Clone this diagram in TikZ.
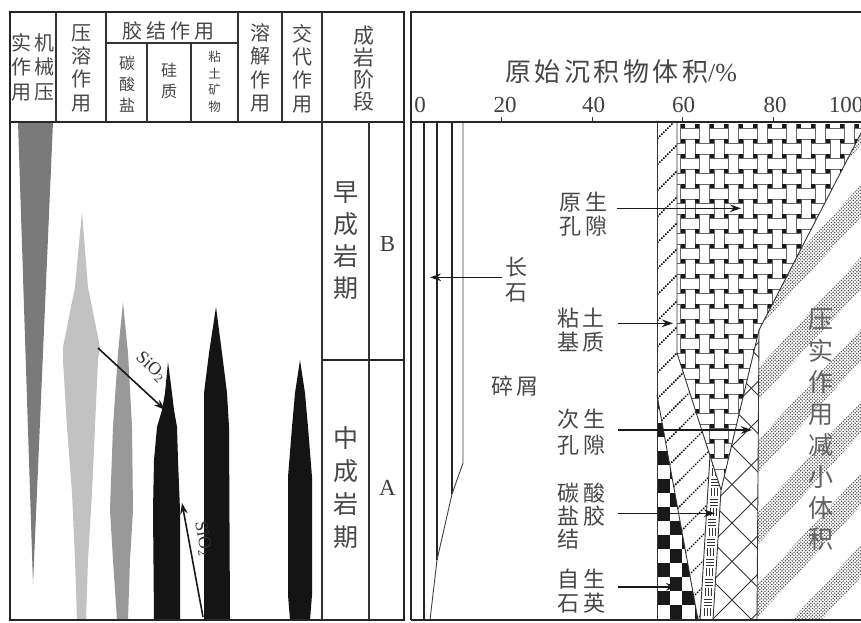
\documentclass[tikz,border=0pt]{standalone}
\usepackage{fontspec}
\setmainfont{Liberation Serif}
\newfontfamily\cjk{Noto Sans CJK SC}
\usetikzlibrary{patterns,arrows.meta}
\pgfdeclarepatternformonly{cdots}{\pgfqpoint{-1pt}{-1pt}}{\pgfqpoint{4.5pt}{4.5pt}}{\pgfqpoint{3.4pt}{3.4pt}}{%
  \pgfpathcircle{\pgfqpoint{0pt}{0pt}}{0.8pt}%
  \pgfpathcircle{\pgfqpoint{1.7pt}{1.7pt}}{0.8pt}%
  \pgfusepath{fill}}
\tikzset{
  frame/.style={line width=2pt,draw=black!85},
  gridl/.style={line width=1.3pt,draw=black!80},
  bnd/.style={line width=0.9pt,draw=black!80},
  fline/.style={line width=2.2pt,draw=black!85},
  wv/.style={line width=0.55pt,draw=black!60},
  cb/.style={line width=0.7pt,draw=black!80},
  xh/.style={line width=1pt,draw=black!80},
  vlab/.style n args={2}{font=\cjk\fontsize{#1}{#2}\selectfont,text=black!72,inner sep=0pt,align=center},
  hlab/.style n args={2}{font=\cjk\fontsize{#1}{#2}\selectfont,text=black!72,inner sep=0pt,align=left},
  num/.style={font=\fontsize{23}{23}\selectfont,text=black!75,inner sep=0pt},
  arr/.style={line width=1.6pt,draw=black!90,-{Stealth[length=11pt,width=7.5pt]}},
  dotline/.style={line width=2.2pt,dash pattern=on 0.01pt off 2.8pt,line cap=round,draw=black},
  sio/.style={font=\fontsize{18}{18}\selectfont,text=black!80,inner sep=0pt},
  dark/.style={fill=black!52},
  light/.style={fill=black!24},
  mid/.style={fill=black!40},
  blk/.style={fill=black!92},
}
\begin{document}
\begin{tikzpicture}[x=1pt,y=-1pt]
\useasboundingbox (0,0) rectangle (861,622);
\fill[white] (0,0) rectangle (861,622);

% ---------------- left panel spikes
\fill[dark] (18,122) -- (53,122) -- (33,584) -- cycle;
\fill[light] (82,212) -- (88,287) -- (100,347) -- (98,360) -- (95,427) -- (92,493) -- (88,560) -- (86,620) -- (77,620) -- (75,560) -- (72,493) -- (67,427) -- (63,360) -- (63,347) -- (75,287) -- cycle;
\fill[mid] (123,302) -- (128,353) -- (132,427) -- (133,510) -- (130,560) -- (128,620) -- (117,620) -- (113,560) -- (110,510) -- (113,427) -- (118,353) -- cycle;
\fill[blk] (168,362) -- (172,393) -- (174,410) -- (177,427) -- (178,460) -- (180,510) -- (180,620) -- (154,620) -- (153,510) -- (154,460) -- (157,427) -- (162,410) -- (165,393) -- cycle;
\fill[blk] (216,307) -- (222,353) -- (227,393) -- (229,427) -- (230,620) -- (204,620) -- (204,427) -- (204,393) -- (209,353) -- cycle;
\fill[blk] (300,360) -- (305,393) -- (308,427) -- (312,477) -- (312,595) -- (310,620) -- (290,620) -- (288,595) -- (288,477) -- (292,427) -- (295,393) -- cycle;

% SiO2 arrows
\coordinate (s1s) at (98,348);
\coordinate (s1e) at (165,410);
\coordinate (s2s) at (203,617);
\coordinate (s2e) at (182,503);
\draw[arr] (s1s) -- (s1e);
\draw[arr] (s2s) -- (s2e);
\node[sio,rotate=-43.6] (sio1) at (151,367) {SiO\textsubscript{2}};
\node[sio,rotate=-79.5] (sio2) at (203,539) {SiO\textsubscript{2}};

% ---------------- left panel grid
\draw[frame] (10,12) rectangle (404,620);
\draw[frame] (10,121.5) -- (404,121.5);
\draw[gridl] (56,12) -- (56,121.5);
\draw[gridl] (106,12) -- (106,121.5);
\draw[gridl] (238,12) -- (238,121.5);
\draw[gridl] (282,12) -- (282,121.5);
\draw[gridl] (322,12) -- (322,620);
\draw[gridl] (106,43) -- (238,43);
\draw[gridl] (147,43) -- (147,121.5);
\draw[gridl] (191,43) -- (191,121.5);
\draw[gridl] (369,121.5) -- (369,620);
\draw[line width=2.6pt,draw=black!85] (322,360) -- (404,360);

% header texts
\node[hlab={20}{24.6}] (hjx) at (33,67) {实\hspace{2.3pt}机\\作\hspace{2.3pt}械\\用\hspace{2.3pt}压};
\node[vlab={20}{23.3}] (hyr) at (81.5,68) {压\\溶\\作\\用};
\node[vlab={20}{20}] (hjj) at (168,31) {胶\hspace{4pt}结\hspace{4pt}作\hspace{4pt}用};
\node[vlab={16}{21}] (htsy) at (127,84.5) {碳\\酸\\盐};
\node[vlab={16}{21.5}] (hgz) at (169,81) {硅\\质};
\node[vlab={12.5}{16.7}] (hnt) at (214.5,81.7) {粘\\土\\矿\\物};
\node[vlab={20}{23.4}] (hrj) at (260,68) {溶\\解\\作\\用};
\node[vlab={20}{23.4}] (hjd) at (302,68.5) {交\\代\\作\\用};
\node[vlab={21}{22.2}] (hcy) at (364,68.5) {成\\岩\\阶\\段};
\node[vlab={25}{32}] (zao) at (345.5,241) {早\\成\\岩\\期};
\node[vlab={25}{33}] (zhong) at (345.5,488) {中\\成\\岩\\期};
\node[num] (lb) at (387.5,243.5) {B};
\node[num] (la) at (387.5,487.5) {A};

% ---------------- right panel patterns
% compaction bands
\begin{scope}
\clip (867,121.5) -- (759,330) -- (757,621) -- (880,621) -- (880,121.5) -- cycle;
\foreach \k in {-3,...,5}{
  \fill[pattern=cdots,pattern color=black!72] (740,{315.7+72*\k}) -- (880,{164.5+72*\k}) -- (880,{196.5+72*\k}) -- (740,{347.7+72*\k}) -- cycle;
}
\end{scope}

% woven (primary pores)
\begin{scope}
\clip (677,121.5) -- (867,121.5) -- (759,330) -- (721,490) -- (677,353) -- cycle;
\foreach \i in {-1,...,13}{\foreach \j in {0,...,25}{
  \pgfmathsetmacro\xa{682.7+14.5*\i}
  \pgfmathsetmacro\xb{\xa+14.5}
  \pgfmathsetmacro\ya{126+15*\j}
  \pgfmathsetmacro\yb{\ya+15}
  \pgfmathtruncatemacro\pq{mod(\i+\j+2,2)}
  \fill[black!90] (\xa-2.2,\ya-2.2) rectangle (\xa+2.2,\ya+2.2);
  \ifnum\pq=0
    \draw[wv] (\xa-2.2,\ya+2.2) -- (\xb+2.2,\ya+2.2) (\xa-2.2,\yb-2.2) -- (\xb+2.2,\yb-2.2);
  \else
    \draw[wv] (\xa+2.2,\ya-2.2) -- (\xa+2.2,\yb+2.2) (\xb-2.2,\ya-2.2) -- (\xb-2.2,\yb+2.2);
  \fi
}}
\end{scope}

% clay matrix hatch
\begin{scope}
\clip (657,121.5) -- (677,121.5) -- (677,353) -- (710,455) -- (700,620) -- (698,620) -- (657,395) -- cycle;
\foreach \k in {0,...,23}{ \draw[dotline] (640,{130+26*\k}) -- ++(110,-110); }
\end{scope}

% authigenic quartz checker
\begin{scope}
\clip (657,395) -- (698,620) -- (657,620) -- cycle;
\foreach \i in {0,...,3}{\foreach \j in {0,...,16}{
  \pgfmathtruncatemacro\pq{mod(\i+\j,2)}
  \ifnum\pq=0 \fill[black!90] ({657+12.5*\i},{395+14*\j}) rectangle ++(12.5,14);\fi
}}
\end{scope}

% carbonate cement
\begin{scope}
\clip (710,455) -- (721,490) -- (713,620) -- (700,620) -- cycle;
\foreach \j in {0,...,16}{
  \pgfmathsetmacro\yyy{462+10*\j}
  \pgfmathsetmacro\cxx{714.4-7.9*(\yyy-490)/130}
  \pgfmathtruncatemacro\pq{mod(\j,2)}
  \ifnum\pq=0
    \draw[cb] (\cxx-4,\yyy-3) -- (\cxx+4,\yyy-3) (\cxx-4,\yyy) -- (\cxx+4,\yyy) (\cxx-4,\yyy+3) -- (\cxx+4,\yyy+3);
  \else
    \draw[cb] (\cxx-3,\yyy-4) -- (\cxx-3,\yyy+4) (\cxx,\yyy-4) -- (\cxx,\yyy+4) (\cxx+3,\yyy-4) -- (\cxx+3,\yyy+4);
  \fi
}
\end{scope}

% secondary pores crosshatch
\begin{scope}
\clip (759,330) -- (757,620) -- (713,620) -- (721,490) -- cycle;
\foreach \k in {-6,...,4}{ \pgfmathsetmacro\cc{1255+38.5*\k} \draw[xh] ({\cc-300},300) -- ({\cc-640},640); }
\foreach \k in {-4,...,6}{ \pgfmathsetmacro\cc{209+38.5*\k} \draw[xh] ({\cc+300},300) -- ({\cc+640},640); }
\end{scope}

% boundaries
\draw[bnd] (657,121.5) -- (657,620);
\draw[bnd] (677,121.5) -- (677,353) -- (721,490);
\draw[bnd] (867,121.5) -- (759,330) -- (757,620);
\draw[bnd] (759,330) -- (721,490) -- (713,620);
\draw[bnd] (710,455) -- (700,620);
\draw[bnd] (657,395) -- (698,620);

% feldspar lines
\draw[fline] (424,121.5) -- (424,620);
\draw[fline] (437,121.5) -- (437,560);
\draw[fline] (452,121.5) -- (452,494);
\draw[line width=0.9pt,draw=black!75] (463,121.5) -- (463,463) -- (452,494) -- (437,560) -- (430,620);

% right frame, axis
\draw[frame] (411,620) -- (411,12) -- (870,12);
\draw[frame] (411,620) -- (870,620);
\draw[frame] (411,121.5) -- (870,121.5);
\foreach \v in {20,40,60,80}{ \draw[gridl] ({411+4.53*\v},121.5) -- ++(0,-5); }
\node[num] (n0) at (420,105) {0};
\node[num] (n20) at (505,105) {20};
\node[num] (n40) at (593.5,105) {40};
\node[num] (n60) at (683.5,105) {60};
\node[num] (n80) at (775,105) {80};
\node[num] (n100) at (846,105) {100};
\node[vlab={26}{26}] (title) at (621,72) {原\hspace{3.5pt}始\hspace{3.5pt}沉\hspace{3.5pt}积\hspace{3.5pt}物\hspace{3.5pt}体\hspace{3.5pt}积{\rmfamily/\%}};

% labels
\node[hlab={22}{23.5}] (lyk) at (583.5,214) {原\hspace{4pt}生\\孔\hspace{4pt}隙};
\node[vlab={22}{25}] (lcs) at (516,279.5) {长\\石};
\node[hlab={22}{24}] (lnt) at (581,330) {粘\hspace{4pt}土\\基\hspace{4pt}质};
\node[vlab={22}{22}] (lsx) at (515,386.5) {碎\hspace{3pt}屑};
\node[hlab={22}{26}] (lck) at (581.5,432.5) {次\hspace{4pt}生\\孔\hspace{4pt}隙};
\node[hlab={22}{22.8}] (ltj) at (581.5,516) {碳\hspace{4pt}酸\\盐\hspace{4pt}胶\\结};
\node[hlab={22}{24}] (lzs) at (581.5,591) {自\hspace{4pt}生\\石\hspace{4pt}英};
\node[vlab={25}{31.4}, text=black!62] (lyc) at (821,430) {压\\实\\作\\用\\减\\小\\体\\积};

% arrows
\coordinate (a1s) at (617,208.3); \coordinate (a1e) at (741,208.3);
\coordinate (a2s) at (502,277.3); \coordinate (a2e) at (430,277.3);
\coordinate (a3s) at (618,323.3); \coordinate (a3e) at (673,323.3);
\coordinate (a4s) at (618,430);   \coordinate (a4e) at (752,430);
\coordinate (a5s) at (618,513.3); \coordinate (a5e) at (715,513.3);
\coordinate (a6s) at (618,586.7); \coordinate (a6e) at (677,586.7);
\draw[arr] (a1s) -- (a1e);
\draw[arr] (a2s) -- (a2e);
\draw[arr] (a3s) -- (a3e);
\draw[arr] (a4s) -- (a4e);
\draw[arr] (a5s) -- (a5e);
\draw[arr] (a6s) -- (a6e);
\end{tikzpicture}
\end{document}
